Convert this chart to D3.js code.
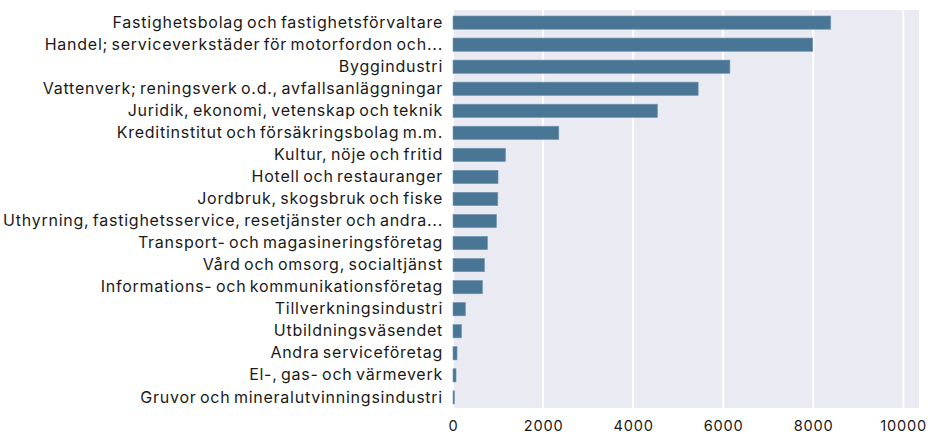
<!DOCTYPE html>
<html>
<head>
<meta charset="utf-8">
<script src="https://cdn.jsdelivr.net/npm/d3@7"></script>
<style>
  html, body { margin: 0; padding: 0; background: #ffffff; }
  svg { display: block; }
  text { font-family: Inter, "Noto Sans", sans-serif; fill: #1a1a1a; }
</style>
</head>
<body>
<svg id="chart" width="928" height="434"></svg>
<script>
const categories = [
  "Fastighetsbolag och fastighetsförvaltare",
  "Handel; serviceverkstäder för motorfordon och...",
  "Byggindustri",
  "Vattenverk; reningsverk o.d., avfallsanläggningar",
  "Juridik, ekonomi, vetenskap och teknik",
  "Kreditinstitut och försäkringsbolag m.m.",
  "Kultur, nöje och fritid",
  "Hotell och restauranger",
  "Jordbruk, skogsbruk och fiske",
  "Uthyrning, fastighetsservice, resetjänster och andra...",
  "Transport- och magasineringsföretag",
  "Vård och omsorg, socialtjänst",
  "Informations- och kommunikationsföretag",
  "Tillverkningsindustri",
  "Utbildningsväsendet",
  "Andra serviceföretag",
  "El-, gas- och värmeverk",
  "Gruvor och mineralutvinningsindustri"
];
const values = [8390, 7990, 6150, 5445, 4540, 2350, 1165, 1000, 995, 965, 765, 697, 653, 275, 186, 89, 67, 31];
const xTicks = [0, 2000, 4000, 6000, 8000, 10000];
const xMax = 10350;

const svg = d3.select("#chart");
const W = 928, H = 434;
const plot = {left: 453, right: 919, top: 10, bottom: 408};

const x = d3.scaleLinear().domain([0, xMax]).range([plot.left, plot.right]);
const y = d3.scaleBand().domain(categories).range([11.6, 408.4]).paddingInner(0.4).paddingOuter(0.2);

svg.append("rect")
  .attr("x", plot.left).attr("y", plot.top)
  .attr("width", plot.right - plot.left)
  .attr("height", plot.bottom - plot.top)
  .attr("fill", "#eaeaf2");

svg.append("g").selectAll("line").data(xTicks).join("line")
  .attr("x1", d => x(d)).attr("x2", d => x(d))
  .attr("y1", plot.top).attr("y2", plot.bottom)
  .attr("stroke", "#ffffff").attr("stroke-width", 2);

svg.append("g").selectAll("rect").data(values).join("rect")
  .attr("x", x(0))
  .attr("y", (d, i) => y(categories[i]))
  .attr("width", d => x(d) - x(0))
  .attr("height", y.bandwidth())
  .attr("fill", "#4a7696")
  .attr("stroke", "#6f93ad")
  .attr("stroke-width", 0.6);

const yAxis = svg.append("g")
  .attr("transform", `translate(${plot.left},0)`)
  .call(d3.axisLeft(y).tickSize(0).tickPadding(10));
yAxis.select(".domain").remove();
yAxis.selectAll("text")
  .style("font-size", "16px")
  .style("letter-spacing", "0.75px")
  .style("word-spacing", "-1.8px")
  .attr("fill", "#1a1a1a");

const xAxis = svg.append("g")
  .attr("transform", `translate(0,${plot.bottom})`)
  .call(d3.axisBottom(x).tickValues(xTicks).tickFormat(d3.format("d")).tickSize(0).tickPadding(13));
xAxis.select(".domain").remove();
xAxis.selectAll("text")
  .style("font-size", "14.6px")
  .style("letter-spacing", "0.8px")
  .attr("fill", "#1a1a1a");
</script>
</body>
</html>
